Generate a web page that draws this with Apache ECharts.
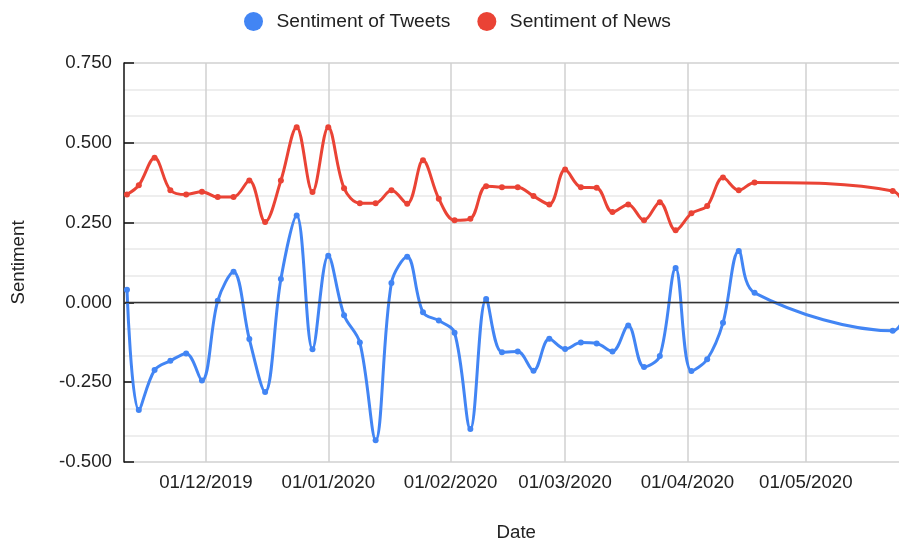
<!DOCTYPE html>
<html>
<head>
<meta charset="utf-8">
<title>Sentiment of Tweets and News</title>
<script src="https://cdn.jsdelivr.net/npm/echarts@6/dist/echarts.min.js"></script>
<style>
  html, body { margin: 0; padding: 0; background: #fff; }
  #chart { width: 899px; height: 540px; }
</style>
</head>
<body>
<div id="chart"></div>
<script>
// Sample dates (every few days, with a gap in late April / May)
const dates = [
  '2019-11-11','2019-11-14','2019-11-18','2019-11-22','2019-11-26','2019-11-30',
  '2019-12-04','2019-12-08','2019-12-12','2019-12-16','2019-12-20','2019-12-24','2019-12-28',
  '2020-01-01','2020-01-05','2020-01-09','2020-01-13','2020-01-17','2020-01-21','2020-01-25','2020-01-29',
  '2020-02-02','2020-02-06','2020-02-10','2020-02-14','2020-02-18','2020-02-22','2020-02-26',
  '2020-03-01','2020-03-05','2020-03-09','2020-03-13','2020-03-17','2020-03-21','2020-03-25','2020-03-29',
  '2020-04-02','2020-04-06','2020-04-10','2020-04-14','2020-04-18',
  '2020-05-23','2020-05-27'
];

// Average sentiment of tweets
const tweetSentiment = [
  0.040, -0.337, -0.212, -0.183, -0.160, -0.245,
  0.005, 0.096, -0.115, -0.281, 0.073, 0.272, -0.147,
  0.146, -0.040, -0.126, -0.432, 0.061, 0.143, -0.031, -0.057,
  -0.095, -0.397, 0.011, -0.156, -0.154, -0.214, -0.114,
  -0.146, -0.126, -0.129, -0.154, -0.072, -0.202, -0.168, 0.108,
  -0.215, -0.178, -0.064, 0.161, 0.030,
  -0.089, 0.030
];

// Average sentiment of news articles
const newsSentiment = [
  0.338, 0.367, 0.453, 0.351, 0.338, 0.347,
  0.330, 0.330, 0.382, 0.252, 0.382, 0.549, 0.346,
  0.549, 0.358, 0.311, 0.311, 0.351, 0.309, 0.445, 0.325,
  0.257, 0.262, 0.364, 0.361, 0.361, 0.333, 0.307,
  0.416, 0.361, 0.359, 0.283, 0.307, 0.257, 0.314, 0.226,
  0.279, 0.302, 0.391, 0.351, 0.376,
  0.349, 0.250
];

// Month labels on the date axis
const monthTicks = ['2019-12-01','2020-01-01','2020-02-01','2020-03-01','2020-04-01','2020-05-01'];

const DAY = 86400000;
const toTs = s => {
  const [y, m, d] = s.split('-').map(Number);
  return Date.UTC(y, m - 1, d);
};
const fmtDate = ts => {
  const d = new Date(ts);
  const p = n => String(n).padStart(2, '0');
  return p(d.getUTCDate()) + '/' + p(d.getUTCMonth() + 1) + '/' + d.getUTCFullYear();
};

const xs = dates.map(toTs);
const tweetData = xs.map((x, i) => [x, tweetSentiment[i]]);
const newsData = xs.map((x, i) => [x, newsSentiment[i]]);
const monthValues = monthTicks.map(toTs);

const FONT = 'Liberation Sans, Arial, sans-serif';
const SMOOTH = 0.35;
const chart = echarts.init(document.getElementById('chart'), null, { renderer: 'canvas' });

chart.setOption({
  animation: false,
  backgroundColor: '#ffffff',
  textStyle: { fontFamily: FONT },
  legend: {
    top: 7,
    left: 239,
    itemWidth: 36,
    itemHeight: 19,
    itemGap: 27,
    icon: 'circle',
    symbolKeepAspect: true,
    textStyle: { fontSize: 19.2, color: '#222', fontFamily: FONT },
    data: ['Sentiment of Tweets', 'Sentiment of News']
  },
  grid: {
    left: 124, top: 63, width: 784.5, height: 399,
    containLabel: false,
    outerBoundsMode: 'none'
  },
  xAxis: {
    type: 'value',
    min: toTs('2019-11-11') - 0.75 * DAY,
    max: toTs('2020-05-27'),
    name: 'Date',
    nameLocation: 'middle',
    nameGap: 61,
    nameTextStyle: { fontSize: 18.7, color: '#222', fontFamily: FONT },
    axisLine: { show: false },
    axisTick: { show: false, customValues: monthValues },
    axisLabel: {
      customValues: monthValues,
      formatter: v => fmtDate(v),
      fontSize: 18.7,
      color: '#222',
      margin: 11,
      fontFamily: FONT
    },
    splitLine: { show: true, lineStyle: { color: '#d0d0d0', width: 1.5 } }
  },
  yAxis: {
    type: 'value',
    min: -0.5,
    max: 0.75,
    interval: 0.25,
    name: 'Sentiment',
    nameLocation: 'middle',
    nameGap: 96,
    nameTextStyle: { fontSize: 18.7, color: '#222', fontFamily: FONT },
    axisLine: { show: true, lineStyle: { color: '#111', width: 1.5 } },
    axisTick: { show: true, inside: true, length: 10, lineStyle: { color: '#111', width: 1.5 } },
    axisLabel: {
      formatter: v => v.toFixed(3),
      fontSize: 18.7,
      color: '#222',
      margin: 12,
      fontFamily: FONT
    },
    splitLine: { show: true, lineStyle: { color: '#d0d0d0', width: 1.5 } },
    minorTick: { show: false, splitNumber: 3 },
    minorSplitLine: { show: true, lineStyle: { color: '#e9e9e9', width: 1.5 } }
  },
  series: [
    {
      // zero baseline under the curves
      name: 'baseline',
      type: 'line',
      data: [],
      z: 1,
      silent: true,
      markLine: {
        silent: true,
        symbol: ['none', 'none'],
        label: { show: false },
        lineStyle: { color: '#333', width: 1.3, type: 'solid' },
        data: [{ yAxis: 0 }]
      }
    },
    {
      name: 'Sentiment of Tweets',
      type: 'line',
      data: tweetData,
      smooth: SMOOTH,
      symbol: 'circle',
      symbolSize: 6,
      showSymbol: true,
      color: '#4285F4',
      lineStyle: { width: 3, color: '#4285F4' },
      itemStyle: { color: '#4285F4' },
      z: 3
    },
    {
      name: 'Sentiment of News',
      type: 'line',
      data: newsData,
      smooth: SMOOTH,
      symbol: 'circle',
      symbolSize: 6,
      showSymbol: true,
      color: '#EA4335',
      lineStyle: { width: 3, color: '#EA4335' },
      itemStyle: { color: '#EA4335' },
      z: 3
    }
  ]
});
</script>
</body>
</html>
